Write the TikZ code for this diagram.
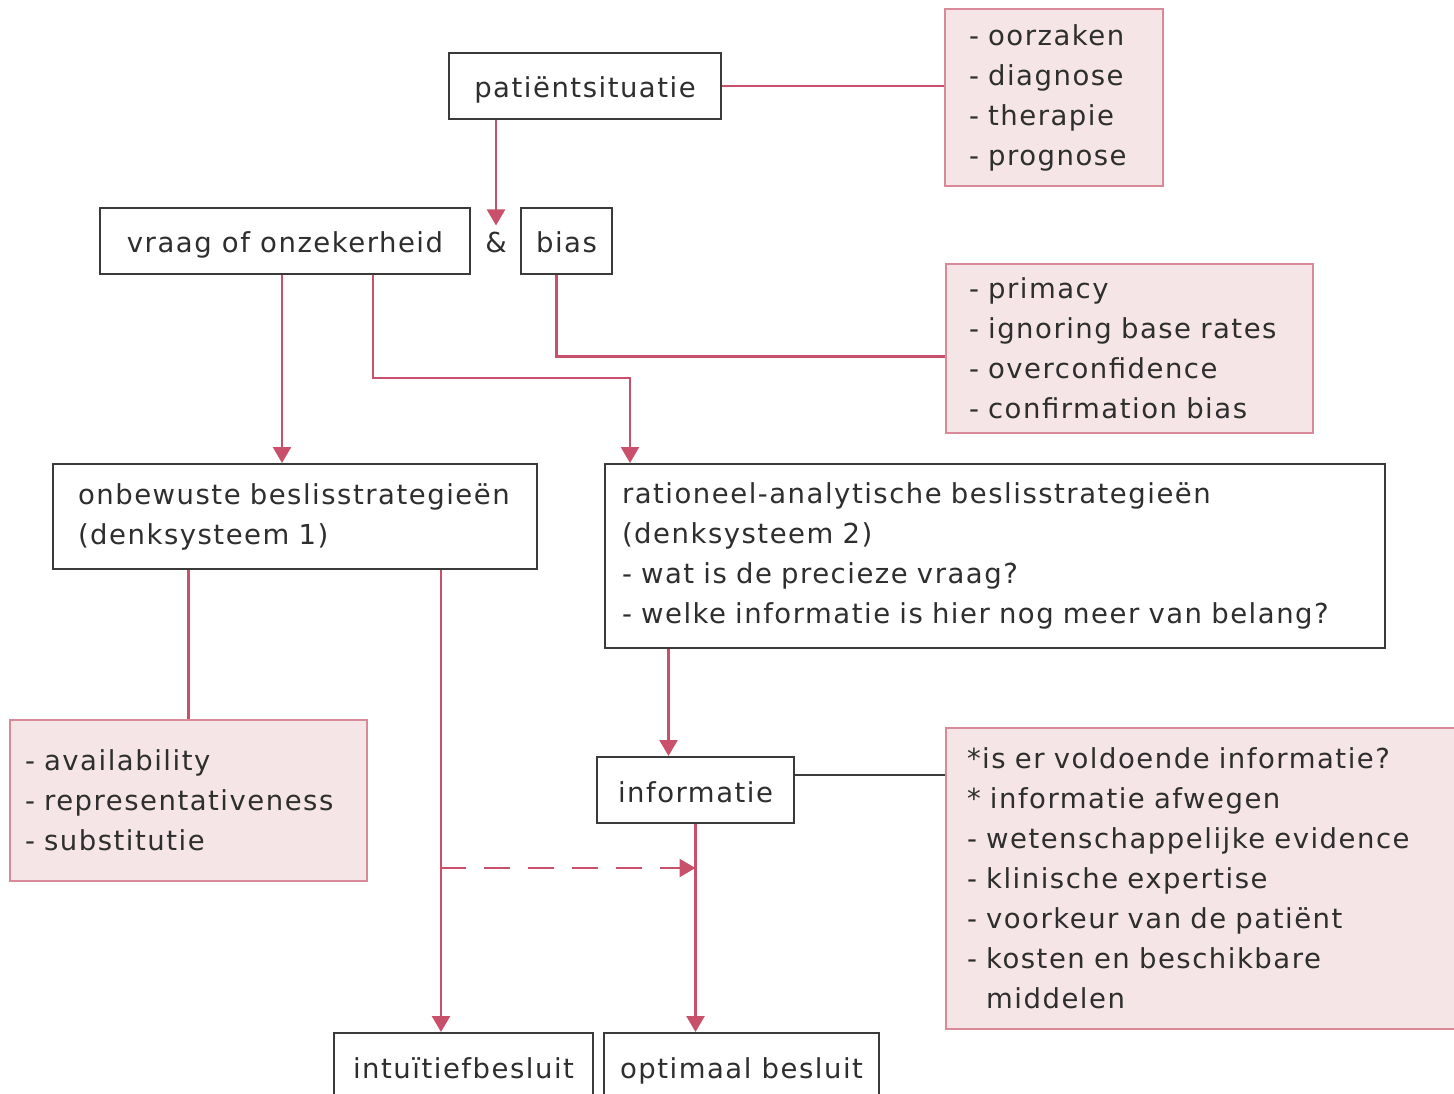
\documentclass[tikz,border=0pt]{standalone}
\usepackage{fontspec}
\setmainfont[LetterSpace=5.5]{DejaVu Sans}
\usetikzlibrary{arrows.meta}
\definecolor{linkred}{HTML}{C8506A}
\definecolor{pinkfill}{HTML}{F6E5E7}
\definecolor{pinkdraw}{HTML}{D98A98}
\definecolor{boxgray}{HTML}{3A3A3A}
\definecolor{txtgray}{HTML}{2E2E2E}
\begin{document}
\begin{tikzpicture}[x=1pt,y=-1pt,>={Triangle[width=18pt,length=16pt]},
  every node/.style={font=\fontsize{27.5}{40}\selectfont,text=txtgray},
  darkbox/.style={draw=boxgray,line width=2pt,fill=white},
  onebox/.style={darkbox,text height=24pt,text depth=0pt,minimum height=66pt},
  listbox/.style={draw=pinkdraw,fill=pinkfill,line width=2pt,align=left,anchor=north west},
  link/.style={draw=linkred,line width=2.5pt}]
\clip (0,0) rectangle (1454,1094);
\node (pat) at (585,86) [onebox,minimum width=272pt] {patiëntsituatie};
\node (causes) at (944,8) [listbox,text width=170pt,inner xsep=24pt,minimum height=177pt]
  {- oorzaken\\- diagnose\\- therapie\\- prognose};
\node (vraag) at (285,241) [onebox,minimum width=370pt] {vraag of onzekerheid};
\node (amp) at (496,241) [text height=24pt,text depth=0pt] {\&};
\node (bias) at (566.5,241) [onebox,minimum width=91pt] {bias};
\node (biases) at (945,263) [listbox,text width=321pt,inner xsep=23pt,minimum height=169pt]
  {- primacy\\- ignoring base rates\\- overconfidence\\- confirmation bias};
\node (onb) at (52,463) [darkbox,align=left,anchor=north west,text width=434pt,inner xsep=25pt,minimum height=105pt]
  {onbewuste beslisstrategieën\\(denksysteem 1)};
\node (rat) at (604,463) [darkbox,align=left,anchor=north west,text width=746pt,inner xsep=17pt,minimum height=184pt]
  {rationeel-analytische beslisstrategieën\\(denksysteem 2)\\- wat is de precieze vraag?\\- welke informatie is hier nog meer van belang?};
\node (heur) at (9,719) [listbox,text width=327pt,inner xsep=15pt,minimum height=161pt]
  {- availability\\- representativeness\\- substitutie};
\node (info) at (695.5,790) [onebox,minimum width=197pt] {informatie};
\node (weigh) at (945,727) [listbox,text width=478pt,inner xsep=21pt,minimum height=301pt]
  {*is er voldoende informatie?\\{*} informatie afwegen\\- wetenschappelijke evidence\\- klinische expertise\\- voorkeur van de patiënt\\- kosten en beschikbare\\\phantom{- }middelen};
\node (intu) at (463.5,1066) [onebox,minimum width=259pt] {intuïtiefbesluit};
\node (opt) at (741.5,1066) [onebox,minimum width=275pt] {optimaal besluit};
\draw [link,->] (pat.south -| amp.north) -- (amp.north);
\draw [link] (pat.east) -- (pat.east -| causes.west);
\draw [link,->] ([xshift=-3pt]vraag.south) -- ([xshift=-3pt]vraag.south |- onb.north);
\draw [link,->] ([xshift=88pt]vraag.south) -- ++(0,103) -| ([xshift=26pt]rat.north west);
\draw [link] ([xshift=-10pt]bias.south) |- ([yshift=-8pt]biases.west);
\draw [link] (onb.south -| heur.north) -- (heur.north);
\draw [link,->] ([xshift=146pt]onb.south) -- ([xshift=146pt]onb.south |- intu.north);
\coordinate (fork) at (440,868);
\draw [link,->,dash pattern=on 26pt off 18pt] (fork) -- (fork -| info.south);
\draw [link,->] ([xshift=-27pt]info.north |- rat.south) -- ([xshift=-27pt]info.north);
\draw [link,->] (info.south) -- (info.south |- opt.north);
\draw [draw=boxgray,line width=2pt] ([yshift=15pt]info.east) -- ([yshift=15pt]info.east -| weigh.west);
\end{tikzpicture}
\end{document}
